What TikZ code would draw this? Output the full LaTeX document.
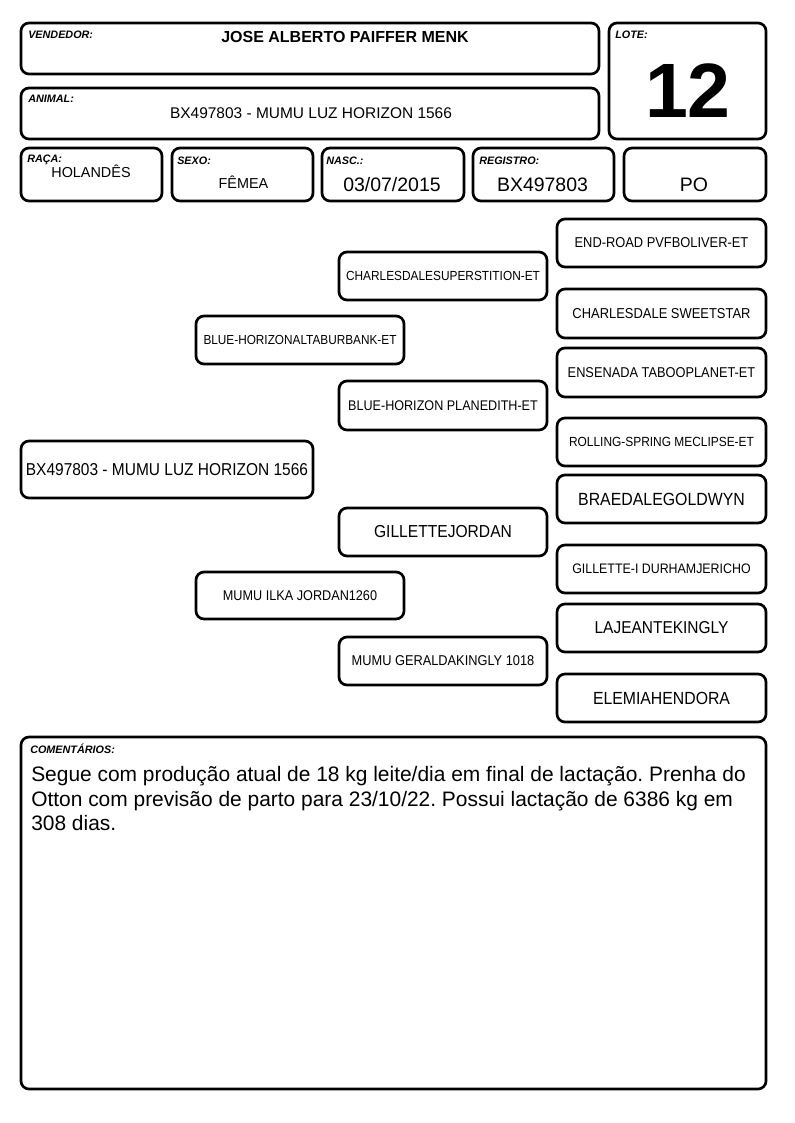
\documentclass[tikz,border=0pt]{standalone}
\usepackage{fontspec}
\setmainfont{Liberation Sans}
\newfontfamily\pedfont[FakeStretch=0.9]{Liberation Sans}
\newcommand\bx[5]{\node[box, minimum width={(#4-#2)*0.75pt}, minimum height={(#5-#3)*0.75pt}] (#1) at ({(#2+#4)/2},{(#3+#5)/2}) {};}
\newcommand\ped[7]{\node[box, minimum width={(#4-#2)*0.75pt}, minimum height={(#5-#3)*0.75pt}, font=\pedfont\fontsize{#6}{#6}\selectfont] (#1) at ({(#2+#4)/2},{(#3+#5)/2}) {#7};}
\frenchspacing
\begin{document}
\begin{tikzpicture}[x=0.75pt,y=-0.75pt,
  box/.style={draw, line width=2pt, rounded corners=6pt, inner sep=0.5pt},
  lab/.style={font=\fontsize{8.1}{9}\selectfont\bfseries\itshape, anchor=base west, inner sep=0pt},
  val/.style={anchor=base, inner sep=0pt}]
\useasboundingbox (0,0) rectangle (794,1123);
% header boxes
\bx{vend}{21}{23}{599}{74}
\bx{anim}{21}{88}{599}{139}
\bx{lote}{609}{23}{766}{139}
\bx{raca}{21}{148}{162}{201}
\bx{sexo}{172}{148}{313}{201}
\bx{nasc}{322}{148}{464}{201}
\bx{reg}{473}{148}{614}{201}
\bx{po}{624}{148}{766}{201}
% header labels
\node[lab] (vendL) at (28,39) {VENDEDOR:};
\node[lab] (animL) at (28,103) {ANIMAL:};
\node[lab] (loteL) at (615,39) {LOTE:};
\node[lab] (racaL) at (27,162.5) {RAÇA:};
\node[lab] (sexoL) at (177,165) {SEXO:};
\node[lab] (nascL) at (326,165) {NASC.:};
\node[lab] (regL) at (479,165) {REGISTRO:};
% header values
\node[val, font=\fontsize{12}{14}\selectfont\bfseries] (vendV) at (345,43) {JOSE ALBERTO PAIFFER MENK};
\node[val, font=\fontsize{11.6}{14}\selectfont] (animV) at (311,119) {BX497803 - MUMU LUZ HORIZON 1566};
\node[val, font=\fontsize{57.8}{60}\selectfont\bfseries] (loteV) at (688,118) {12};
\node[val, font=\fontsize{10.8}{12}\selectfont] (racaV) at (91,178) {HOLANDÊS};
\node[val, font=\fontsize{10.8}{12}\selectfont] (sexoV) at (243.5,189) {FÊMEA};
\node[val, font=\fontsize{14.6}{16}\selectfont] (nascV) at (392,192) {03/07/2015};
\node[val, font=\fontsize{14.6}{16}\selectfont] (regV) at (542.5,192) {BX497803};
\node[val, font=\fontsize{14.6}{16}\selectfont] (poV) at (694,192) {PO};
% pedigree
\ped{a}{21}{441}{313}{498}{12.9}{BX497803 - MUMU LUZ HORIZON 1566}
\ped{s}{196}{316}{404}{364}{9.83}{BLUE-HORIZONALTABURBANK-ET}
\ped{d}{196}{572}{404}{619}{10.56}{MUMU ILKA JORDAN1260}
\ped{ss}{339}{252}{547}{300}{9.89}{CHARLESDALESUPERSTITION-ET}
\ped{sd}{339}{381}{547}{430}{10.5}{BLUE-HORIZON PLANEDITH-ET}
\ped{ds}{339}{508}{547}{556}{13}{GILLETTEJORDAN}
\ped{dd}{339}{637}{547}{685}{10.67}{MUMU GERALDAKINGLY 1018}
\ped{sss}{557}{219}{766}{267}{10.72}{END-ROAD PVFBOLIVER-ET}
\ped{ssd}{557}{289}{766}{338}{10.78}{CHARLESDALE SWEETSTAR}
\ped{sds}{557}{348}{766}{397}{10.67}{ENSENADA TABOOPLANET-ET}
\ped{sdd}{557}{418}{766}{466}{9.94}{ROLLING-SPRING MECLIPSE-ET}
\ped{dss}{557}{475}{766}{523}{13.22}{BRAEDALEGOLDWYN}
\ped{dsd}{557}{545}{766}{593}{10.33}{GILLETTE-I DURHAMJERICHO}
\ped{dds}{557}{604}{766}{652}{12.89}{LAJEANTEKINGLY}
\ped{ddd}{557}{674}{766}{722}{13.17}{ELEMIAHENDORA}
% comments
\bx{com}{21}{737}{766}{1089}
\node[lab] (comL) at (30,753) {COMENTÁRIOS:};
\node[anchor=base west, inner sep=0pt, font=\fontsize{15.7}{18}\selectfont] (c1) at (31,781) {Segue com produção atual de 18 kg leite/dia em final de lactação. Prenha do};
\node[anchor=base west, inner sep=0pt, font=\fontsize{15.7}{18}\selectfont] (c2) at (31,806) {Otton com previsão de parto para 23/10/22. Possui lactação de 6386 kg em};
\node[anchor=base west, inner sep=0pt, font=\fontsize{15.7}{18}\selectfont] (c3) at (31,830) {308 dias.};
\end{tikzpicture}
\end{document}
